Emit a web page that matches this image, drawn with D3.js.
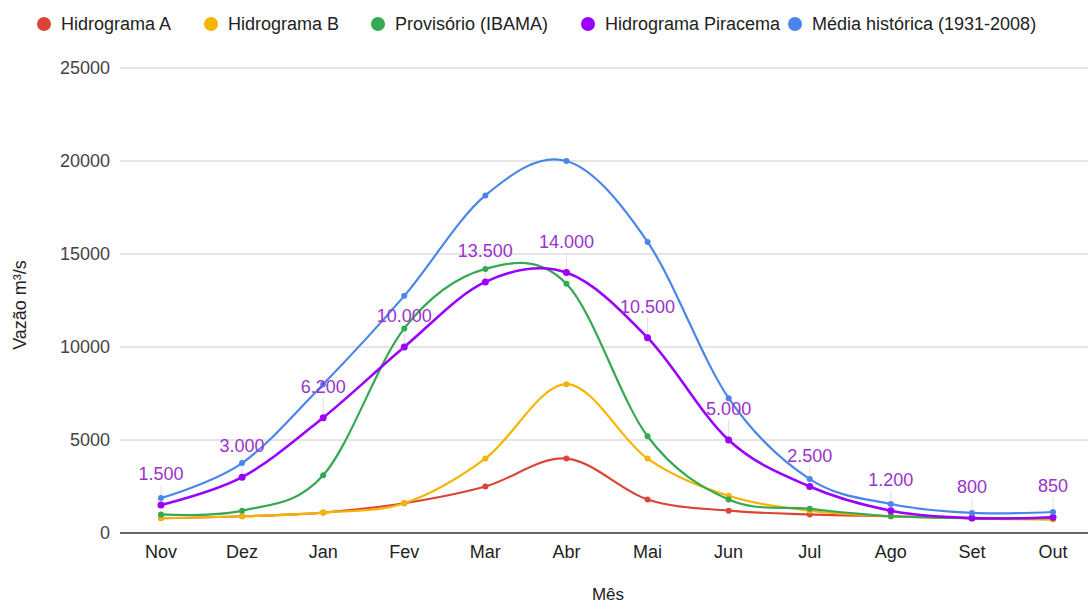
<!DOCTYPE html>
<html><head><meta charset="utf-8">
<script src="https://cdn.jsdelivr.net/npm/d3@7"></script>
<style>body{margin:0;background:#fff;}svg{display:block;font-family:"Liberation Sans",Arial,sans-serif;}</style>
</head><body><svg id="c" width="1088" height="606"></svg>
<script>
const months = ["Nov","Dez","Jan","Fev","Mar","Abr","Mai","Jun","Jul","Ago","Set","Out"];
const hidrogramaA = [800,900,1100,1600,2500,4000,1800,1200,1000,900,800,750];
const hidrogramaB = [800,900,1100,1600,4000,8000,4000,2000,1200,900,780,720];
const provisorio = [1000,1200,3100,11000,14200,13400,5200,1800,1300,900,800,800];
const piracema = [1500,3000,6200,10000,13500,14000,10500,5000,2500,1200,800,850];
const mediaHistorica = [1880,3760,8000,12750,18150,20000,15650,7250,2900,1560,1080,1130];
const yTicks = [0,5000,10000,15000,20000,25000];
const seriesNames = ["Hidrograma A","Hidrograma B","Provisório (IBAMA)","Hidrograma Piracema","Média histórica (1931-2008)"];
const seriesColors = ["#db4437","#f4b400","#34a853","#9900ff","#4a86e8"];
const seriesValues = [hidrogramaA,hidrogramaB,provisorio,piracema,mediaHistorica];

const svg = d3.select("#c");
const x = d3.scalePoint().domain(months).range([161,1053]);
const y = d3.scaleLinear().domain([0,25000]).range([533,68]);

// grid
svg.append("g").selectAll("line").data(yTicks.filter(d=>d>0)).join("line")
  .attr("x1",120).attr("x2",1088).attr("y1",d=>y(d)).attr("y2",d=>y(d))
  .attr("stroke","#cccccc").attr("stroke-width",1);
// y labels
svg.append("g").selectAll("text").data(yTicks).join("text")
  .attr("x",110).attr("y",d=>y(d)+6).attr("text-anchor","end")
  .attr("font-size",18).attr("fill","#444").text(d=>d);
// baseline
svg.append("line").attr("x1",120).attr("x2",1088).attr("y1",y(0)).attr("y2",y(0))
  .attr("stroke","#333").attr("stroke-width",1.5);
// x labels
svg.append("g").selectAll("text").data(months).join("text")
  .attr("x",d=>x(d)).attr("y",558).attr("text-anchor","middle")
  .attr("font-size",18).attr("fill","#222").text(d=>d);
svg.append("text").attr("x",608).attr("y",600).attr("text-anchor","middle")
  .attr("font-size",17).attr("fill","#222").text("Mês");
svg.append("text").attr("transform","translate(26,305) rotate(-90)").attr("text-anchor","middle")
  .attr("font-size",18).attr("fill","#222").text("Vazão m³/s");

// leader lines for labels
svg.append("g").selectAll("line").data(piracema).join("line")
  .attr("x1",(d,i)=>x(months[i])).attr("x2",(d,i)=>x(months[i]))
  .attr("y1",d=>y(d)-20).attr("y2",d=>y(d))
  .attr("stroke","#e0e0e0").attr("stroke-width",1);

const line = d3.line().x((d,i)=>x(months[i])).y(d=>y(d)).curve(d3.curveCardinal.tension(0));
seriesValues.forEach((vals,s)=>{
  const g = svg.append("g");
  g.append("path").attr("d",line(vals)).attr("fill","none")
    .attr("stroke",seriesColors[s]).attr("stroke-width",s===3?2.6:2.2);
  g.selectAll("circle").data(vals).join("circle")
    .attr("cx",(d,i)=>x(months[i])).attr("cy",d=>y(d)).attr("r",s===3?3.5:3)
    .attr("fill",seriesColors[s]);
});

// data labels
const fmt = v => d3.format(",")(v).replace(/,/g,".");
svg.append("g").selectAll("text").data(piracema).join("text")
  .attr("x",(d,i)=>x(months[i])).attr("y",d=>y(d)-25).attr("text-anchor","middle")
  .attr("font-size",18).attr("fill","#9933cc").text(d=>fmt(d));

// legend
const legendX = [44,211,378,588,795];
const lg = svg.append("g").selectAll("g").data(seriesNames).join("g")
  .attr("transform",(d,i)=>`translate(${legendX[i]},24)`);
lg.append("circle").attr("r",7).attr("fill",(d,i)=>seriesColors[i]);
lg.append("text").attr("x",17).attr("y",6).attr("font-size",18).attr("fill","#222").text(d=>d);
</script></body></html>
